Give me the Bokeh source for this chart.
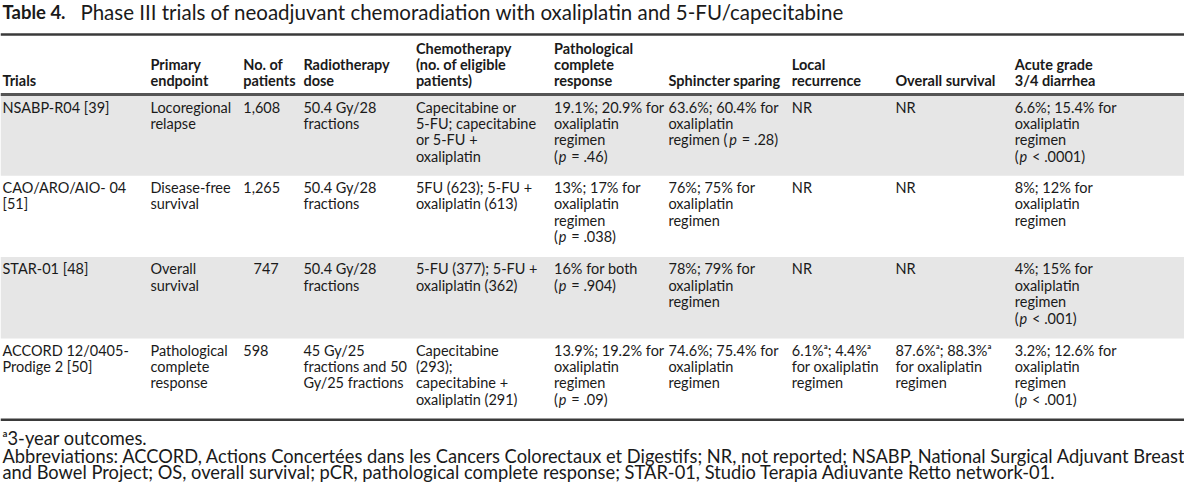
from bokeh.plotting import figure
from bokeh.models import Range1d, ColumnDataSource
from bokeh.core.properties import value
from bokeh.embed import file_html
from bokeh.resources import INLINE

# ---------------- data ----------------
title_bold = "Table 4."
title_rest = "Phase III trials of neoadjuvant chemoradiation with oxaliplatin and 5-FU/capecitabine"

headers = [
    "Trials",
    "Primary\nendpoint",
    "No. of\npatients",
    "Radiotherapy\ndose",
    "Chemotherapy\n(no. of eligible\npatients)",
    "Pathological\ncomplete\nresponse",
    "Sphincter sparing",
    "Local\nrecurrence",
    "Overall survival",
    "Acute grade\n3/4 diarrhea",
]

trials = ["NSABP-R04 [39]", "CAO/ARO/AIO- 04\n[51]", "STAR-01 [48]", "ACCORD 12/0405-\nProdige 2 [50]"]
endpoints = ["Locoregional\nrelapse", "Disease-free\nsurvival", "Overall\nsurvival", "Pathological\ncomplete\nresponse"]
patients = ["1,608", "1,265", "747", "598"]
rt_dose = ["50.4 Gy/28\nfractions", "50.4 Gy/28\nfractions", "50.4 Gy/28\nfractions",
           "45 Gy/25\nfractions and 50\nGy/25 fractions"]
chemo = ["Capecitabine or\n5-FU; capecitabine\nor 5-FU +\noxaliplatin",
         "5FU (623); 5-FU +\noxaliplatin (613)",
         "5-FU (377); 5-FU +\noxaliplatin (362)",
         "Capecitabine\n(293);\ncapecitabine +\noxaliplatin (291)"]
pcr = ["19.1%; 20.9% for\noxaliplatin\nregimen\n(p = .46)",
       "13%; 17% for\noxaliplatin\nregimen\n(p = .038)",
       "16% for both\n(p = .904)",
       "13.9%; 19.2% for\noxaliplatin\nregimen\n(p = .09)"]
sphincter = ["63.6%; 60.4% for\noxaliplatin\nregimen (p = .28)",
             "76%; 75% for\noxaliplatin\nregimen",
             "78%; 79% for\noxaliplatin\nregimen",
             "74.6%; 75.4% for\noxaliplatin\nregimen"]
local_rec = ["NR", "NR", "NR", "6.1%\u1d43; 4.4%\u1d43\nfor oxaliplatin\nregimen"]
overall_surv = ["NR", "NR", "NR", "87.6%\u1d43; 88.3%\u1d43\nfor oxaliplatin\nregimen"]
diarrhea = ["6.6%; 15.4% for\noxaliplatin\nregimen\n(p < .0001)",
            "8%; 12% for\noxaliplatin\nregimen",
            "4%; 15% for\noxaliplatin\nregimen\n(p < .001)",
            "3.2%; 12.6% for\noxaliplatin\nregimen\n(p < .001)"]

footnotes = [
    "\u1d433-year outcomes.",
    "Abbreviations: ACCORD, Actions Concert\u00e9es dans les Cancers Colorectaux et Digestifs; NR, not reported; NSABP, National Surgical Adjuvant Breast",
    "and Bowel Project; OS, overall survival; pCR, pathological complete response; STAR-01, Studio Terapia Adiuvante Retto network-01.",
]

columns = [trials, endpoints, patients, rt_dose, chemo, pcr, sphincter, local_rec, overall_surv, diarrhea]

# ---------------- layout (reference pixel space) ----------------
col_x = [2, 152, 246, 307, 421, 561, 677, 802, 907, 1028]
row_tops = [98, 181, 265, 349, 433]
row_shaded = [True, False, True, False]
first_line_offset = 12
line_h = 17
header_bottom_line = 83
header_line_h = 16.5
FONT = "Lato"
BODY_PX = 14.5
BODY_SIZE = f"{BODY_PX}px"
INK = "#1a1a1a"
SCALE = 1200 / 1184

# approximate Lato advance widths (em) for the prefixes that precede an italic p
ADV = {"(": 0.32, " ": 0.26, "r": 0.37, "e": 0.54, "g": 0.50, "i": 0.23, "m": 0.86, "n": 0.57}
P_ITALIC_EM = 0.57
SPACE_EM = 0.30


def prefix_width(s):
    return sum(ADV.get(ch, 0.55) for ch in s) * BODY_PX * SCALE


W, H = 1184, 487
p = figure(width=W, height=H, output_backend="svg", toolbar_location=None,
           x_range=Range1d(0, 1200), y_range=Range1d(503, 0),
           min_border=0, outline_line_color=None, background_fill_color="white")
p.axis.visible = False
p.grid.visible = False

# shaded bands
bl, br, bt, bb = [], [], [], []
for i, sh in enumerate(row_shaded):
    if sh:
        bl.append(0); br.append(1200); bt.append(row_tops[i]); bb.append(row_tops[i + 1])
p.quad(left=bl, right=br, top=bt, bottom=bb, fill_color="#e6e6e6", line_color=None)

# rules
p.segment(x0=[0], x1=[1200], y0=[35], y1=[35], line_color="#3a3a3a", line_width=2.5)
p.segment(x0=[0], x1=[1200], y0=[97], y1=[97], line_color="#555555", line_width=3)
p.segment(x0=[0], x1=[1200], y0=[433], y1=[433], line_color="#3a3a3a", line_width=2.5)

# title
p.text(x=[2], y=[12], text=[title_bold], text_font=value(FONT), text_font_style="bold",
       text_font_size="18.5px", text_baseline="middle", text_color=INK)
p.text(x=[81], y=[12], text=[title_rest], text_font=value(FONT),
       text_font_size="20.5px", text_baseline="middle", text_color=INK)

# header
hx, hy, ht = [], [], []
for c, h in enumerate(headers):
    lines = h.split("\n")
    n = len(lines)
    for k, ln in enumerate(lines):
        hx.append(col_x[c]); ht.append(ln)
        hy.append(header_bottom_line - (n - 1 - k) * header_line_h)
p.text(x=hx, y=hy, text=ht, text_font=value(FONT), text_font_style="bold",
       text_font_size=BODY_SIZE, text_baseline="middle", text_color=INK)

# body
patient_align = ["left", "left", "right", "left"]
bx, by, bt_, ba = [], [], [], []
ix, iy = [], []
for c, col in enumerate(columns):
    for r, cell in enumerate(col):
        for k, ln in enumerate(cell.split("\n")):
            x = col_x[c]
            y = row_tops[r] + first_line_offset + k * line_h
            align = "left"
            if c == 2 and patient_align[r] == "right":
                x = col_x[2] + 36
                align = "right"
            j = ln.find("(p ")
            if j >= 0:
                pre = ln[:j + 1]
                post = ln[j + 2:].lstrip()
                w_pre = prefix_width(pre)
                w_p = (P_ITALIC_EM + SPACE_EM) * BODY_PX * SCALE
                bx += [x, x + w_pre + w_p]; bt_ += [pre, post]; ba += ["left", "left"]; by += [y, y]
                ix.append(x + w_pre); iy.append(y)
            else:
                bx.append(x); bt_.append(ln); ba.append(align); by.append(y)
src = ColumnDataSource(dict(x=bx, y=by, text=bt_, align=ba))
p.text(x="x", y="y", text="text", text_align="align", source=src, text_font=value(FONT),
       text_font_size=BODY_SIZE, text_baseline="middle", text_color=INK)
p.text(x=ix, y=iy, text=["p"] * len(ix), text_font=value(FONT), text_font_style="italic",
       text_font_size=BODY_SIZE, text_baseline="middle", text_color=INK)

# footnotes
p.text(x=[2, 2, 2], y=[452, 470, 487], text=footnotes, text_font=value(FONT),
       text_font_size="18.3px", text_baseline="middle", text_color=INK)

open("out.html", "w").write(file_html(p, INLINE))
